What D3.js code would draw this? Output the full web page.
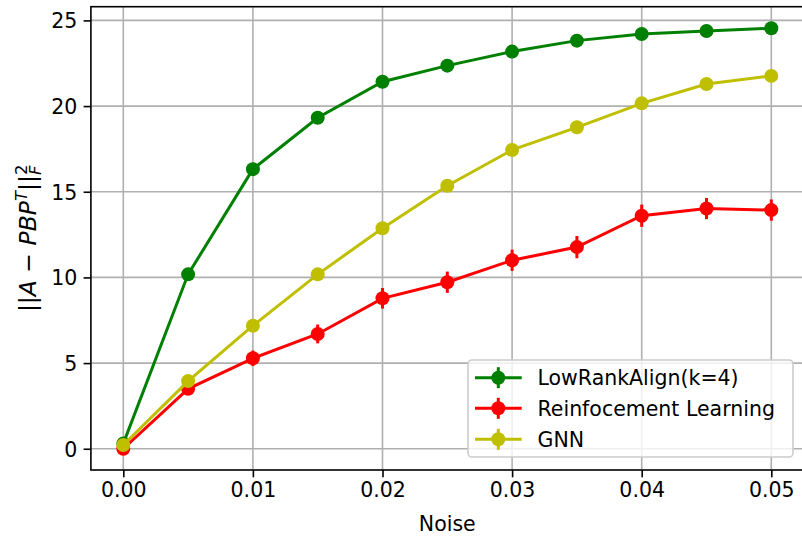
<!DOCTYPE html>
<html>
<head>
<meta charset="utf-8">
<script src="https://cdn.jsdelivr.net/npm/d3@7"></script>
<style>
  html, body { margin: 0; padding: 0; background: #fff; }
  svg { display: block; font-family: "DejaVu Sans", sans-serif; }
</style>
</head>
<body>
<svg id="chart" width="802" height="540"></svg>
<script>
const noise = [0.000, 0.005, 0.010, 0.015, 0.020, 0.025, 0.030, 0.035, 0.040, 0.045, 0.050];
const lowRankValues = [0.30, 10.18, 16.32, 19.32, 21.42, 22.36, 23.18, 23.82, 24.21, 24.38, 24.54];
const lowRankErrors = [0.05, 0.15, 0.15, 0.15, 0.15, 0.15, 0.15, 0.15, 0.15, 0.15, 0.15];
const rlValues = [0.00, 3.50, 5.28, 6.70, 8.78, 9.72, 11.00, 11.77, 13.60, 14.02, 13.93];
const rlErrors = [0.10, 0.30, 0.45, 0.55, 0.60, 0.62, 0.62, 0.65, 0.65, 0.62, 0.62];
const gnnValues = [0.22, 3.95, 7.18, 10.18, 12.87, 15.35, 17.44, 18.76, 20.16, 21.29, 21.76];
const gnnErrors = [0.05, 0.15, 0.15, 0.15, 0.15, 0.15, 0.15, 0.15, 0.15, 0.15, 0.15];
const seriesNames = ["LowRankAlign(k=4)", "Reinfocement Learning", "GNN"];
const seriesColors = ["#008000", "#ff0000", "#bfbf00"];
const xTicks = [0.00, 0.01, 0.02, 0.03, 0.04, 0.05];
const yTicks = [0, 5, 10, 15, 20, 25];
const xLabel = "Noise";

const series = [
  {name: seriesNames[0], color: seriesColors[0], values: lowRankValues, errors: lowRankErrors},
  {name: seriesNames[1], color: seriesColors[1], values: rlValues, errors: rlErrors},
  {name: seriesNames[2], color: seriesColors[2], values: gnnValues, errors: gnnErrors}
];

const svg = d3.select("#chart");
const L = 90.9, R = 803.7, T = 6.7, B = 470;
const x = d3.scaleLinear().domain([-0.0025, 0.0525]).range([L, R]);
const y = d3.scaleLinear().domain([-1.24, 25.8]).range([B, T]);
const fs = 20.5;

// grid
const grid = svg.append("g");
grid.selectAll("line.gx").data(xTicks).enter().append("line")
  .attr("x1", d => x(d)).attr("x2", d => x(d)).attr("y1", T).attr("y2", B)
  .attr("stroke", "#b0b0b0").attr("stroke-width", 1.6);
grid.selectAll("line.gy").data(yTicks).enter().append("line")
  .attr("x1", L).attr("x2", R).attr("y1", d => y(d)).attr("y2", d => y(d))
  .attr("stroke", "#b0b0b0").attr("stroke-width", 1.6);

// axes
const xAxis = d3.axisBottom(x).tickValues(xTicks).tickFormat(d3.format(".2f")).tickSizeInner(7.3).tickSizeOuter(0).tickPadding(5);
const yAxis = d3.axisLeft(y).tickValues(yTicks).tickFormat(d3.format("d")).tickSizeInner(7.3).tickSizeOuter(0).tickPadding(5);
const gx = svg.append("g").attr("transform", `translate(0,${B})`).call(xAxis);
const gy = svg.append("g").attr("transform", `translate(${L},0)`).call(yAxis);
[gx, gy].forEach(g => {
  g.select(".domain").remove();
  g.selectAll(".tick line").attr("stroke", "#000").attr("stroke-width", 1.6);
  g.selectAll(".tick text").attr("fill", "#000").attr("font-size", fs).attr("font-family", "DejaVu Sans");
});
gx.selectAll(".tick text").attr("dy", "0.71em").attr("y", 12.3);
gy.selectAll(".tick text").attr("x", -13.5).attr("dy", "0.36em");

// series
const line = d3.line().x((d, i) => x(noise[i])).y(d => y(d));
series.forEach(s => {
  const g = svg.append("g");
  g.append("path").datum(s.values).attr("d", line)
    .attr("fill", "none").attr("stroke", s.color).attr("stroke-width", 3);
  g.selectAll("line.err").data(s.values).enter().append("line")
    .attr("x1", (d, i) => x(noise[i])).attr("x2", (d, i) => x(noise[i]))
    .attr("y1", (d, i) => y(d - s.errors[i])).attr("y2", (d, i) => y(d + s.errors[i]))
    .attr("stroke", s.color).attr("stroke-width", 3);
  g.selectAll("circle").data(s.values).enter().append("circle")
    .attr("cx", (d, i) => x(noise[i])).attr("cy", d => y(d)).attr("r", 7)
    .attr("fill", s.color);
});

// spines
svg.append("rect").attr("x", L).attr("y", T).attr("width", R - L).attr("height", B - T)
  .attr("fill", "none").attr("stroke", "#000").attr("stroke-width", 1.6);

// axis labels
svg.append("text").attr("x", (L + R) / 2).attr("y", 530.5).attr("text-anchor", "middle")
  .attr("font-size", fs).attr("fill", "#000").text(xLabel);

const yl = svg.append("text").attr("transform", `translate(36,${(T + B) / 2}) rotate(-90)`)
  .attr("font-size", 23.5).attr("fill", "#000").attr("text-anchor", "start");
yl.append("tspan").text("||");
yl.append("tspan").attr("font-style", "italic").text("A");
yl.append("tspan").text(" \u2212 ");
yl.append("tspan").attr("font-style", "italic").text("PBP");
yl.append("tspan").attr("font-style", "italic").attr("font-size", "70%").attr("dy", "-0.55em").text("T");
yl.append("tspan").attr("dy", "0.385em").text("||");
const fsp = yl.append("tspan").attr("font-style", "italic").attr("font-size", "70%").attr("dy", "0.3em").text("F");
const fw = fsp.node().getComputedTextLength();
yl.append("tspan").attr("font-size", "70%").attr("dx", -fw).attr("dy", "-0.85em").text("2");
const bw = yl.node().getBBox().width;
yl.attr("transform", `translate(36,${(T + B) / 2 + bw / 2}) rotate(-90)`);

// legend
const lg = svg.append("g");
lg.append("rect").attr("x", 468).attr("y", 360).attr("width", 325).attr("height", 97)
  .attr("rx", 4).attr("fill", "#fff").attr("fill-opacity", 0.8)
  .attr("stroke", "#cccccc").attr("stroke-width", 1.6);
const rows = [377.7, 408.3, 439.3];
series.forEach((s, i) => {
  const gy2 = rows[i];
  lg.append("line").attr("x1", 475).attr("x2", 521.7).attr("y1", gy2).attr("y2", gy2)
    .attr("stroke", s.color).attr("stroke-width", 3);
  lg.append("line").attr("x1", 498.3).attr("x2", 498.3).attr("y1", gy2 - 10.5).attr("y2", gy2 + 10.5)
    .attr("stroke", s.color).attr("stroke-width", 3);
  lg.append("circle").attr("cx", 498.3).attr("cy", gy2).attr("r", 7).attr("fill", s.color);
  lg.append("text").attr("x", 537.5).attr("y", gy2).attr("dy", "0.36em")
    .attr("font-size", fs).attr("fill", "#000").text(s.name);
});
</script>
</body>
</html>
